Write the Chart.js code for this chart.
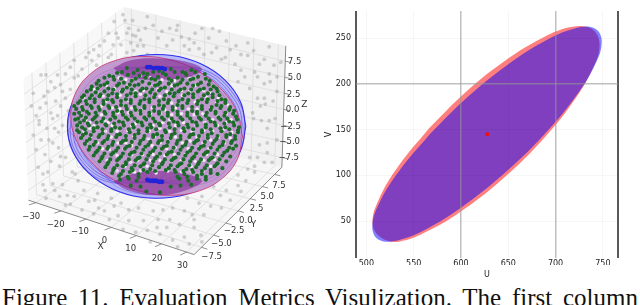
<!DOCTYPE html>
<html>
<head>
<meta charset="utf-8">
<title>Figure 11</title>
<script src="https://cdn.jsdelivr.net/npm/chart.js@4/dist/chart.umd.min.js"></script>
<style>
    html, body { margin: 0; padding: 0; background: #fff; overflow: hidden; width: 640px; height: 305px; }
    canvas { position: absolute; top: 0; }
    #sphereChart { left: 0; filter: blur(0.75px); }
    #ellipseChart { left: 320px; filter: blur(0.6px); }
    #caption {
        position: absolute; left: 2px; top: 285px; width: 636px; height: 20px; overflow: hidden;
        font: 25px/25px "Liberation Serif", serif; color: #111; white-space: nowrap;
        text-align: justify; text-align-last: justify;
    }
</style>
</head>
<body>
<canvas id="sphereChart" width="320" height="278"></canvas>
<canvas id="ellipseChart" width="320" height="280"></canvas>
<div id="caption">Figure 11. Evaluation Metrics Visulization. The first column</div>
<script>
// ---------- 3D panel, everything in its projected plane ----------
const xTicks = [-30, -20, -10, 0, 10, 20, 30];
const yTicks = [-7.5, -5, -2.5, 0, 2.5, 5, 7.5];
const zTicks = [-7.5, -5, -2.5, 0, 2.5, 5, 7.5];
const xTickLabels = ["\u221230", "\u221220", "\u221210", "0", "10", "20", "30"];
const yTickLabels = ["\u22127.5", "\u22125.0", "\u22122.5", "0.0", "2.5", "5.0", "7.5"];
const zTickLabels = ["\u22127.5", "\u22125.0", "\u22122.5", "0.0", "2.5", "5.0", "7.5"];

// projected box corners, named low/high for x y z
const boxCorners = {
    lll: [25, 202], hll: [195, 258], hhl: [285, 168], lhl: [125, 133],
    llh: [20, 77], hlh: [187, 117], hhh: [289, 43], lhh: [123, 3]
};
const xRange = [-33, 33];
const yRange = [-9, 9];
const zRange = [-9, 9.9];

const outerOutline = [[248,126],[242.5,100.7],[226.6,78.4],[202.3,61.9],[172.4,53.1],[140.6,53.1],[110.8,61.9],[86.4,78.4],[70.5,100.7],[65,126],[70.5,151.3],[86.4,173.6],[110.8,190.1],[140.6,198.9],[172.4,198.9],[202.3,190.1],[226.6,173.6],[242.5,151.3],[248,126]];
const innerOutline = [[244.5,136.7],[239.2,111.8],[223.9,88.7],[200.5,69.9],[171.8,57.9],[141.2,54],[112.5,58.7],[89.1,71.5],[73.8,90.8],[68.5,114.3],[73.8,139.2],[89.1,162.3],[112.5,181.1],[141.2,193.1],[171.8,197],[200.5,192.3],[223.9,179.5],[239.2,160.2],[244.5,136.7]];
const topCap = [[112,66],[130,58],[157,56],[185,59],[203,67],[190,75],[157,78],[125,75],[112,66]];
const bottomCap = [[112,183],[128,176],[157,172],[186,175],[203,182],[186,192],[157,197],[128,192],[112,183]];
const poleBlobs = [[147,65],[150,65],[153,66],[156,66],[159,66],[162,66],[165,67],[147,181],[150,182],[153,182],[156,182],[159,183],[162,183]];

const meridians = [
    [[157,64],[103,70],[74,100],[65.5,128],[74,158],[103,182],[155,184]],
    [[157,64],[107,71],[78,100],[68,128],[77,158],[106,181],[155,184]],
    [[157,64],[110,72],[81,100],[71,128],[80,158],[109,180],[155,184]],
    [[157,64],[113,73],[85,100],[75,128],[84,158],[112,179],[155,184]],
    [[157,64],[117,74],[91,100],[81,128],[89,157],[116,178],[155,184]],
    [[157,64],[123,75],[100,100],[91,128],[98,157],[123,176],[155,184]],
    [[157,64],[130,76],[112,100],[104,128],[110,156],[130,174],[155,184]],
    [[157,64],[140,77],[128,100],[122,128],[126,156],[140,173],[155,184]],
    [[157,64],[152,78],[150,100],[148,128],[148,156],[150,172],[155,184]],
    [[157,64],[172,78],[178,100],[178,128],[176,156],[168,172],[155,184]],
    [[157,64],[184,76],[202,100],[205,126],[200,152],[182,174],[155,184]],
    [[157,64],[192,74],[218,98],[226,126],[216,152],[192,176],[155,184]],
    [[157,64],[198,72],[228,98],[236,126],[226,156],[198,178],[155,184]],
    [[157,64],[202,71],[233,98],[241,126],[232,156],[202,180],[155,184]],
    [[157,64],[205,70],[236,98],[244,126],[235,156],[205,182],[155,184]],
    [[157,64],[208,69],[239,98],[247,126],[239,156],[208,184],[155,184]]
];
const rings = [
    [[94,90],[112,73],[156,66],[200,73],[218,90],[200,107],[156,114],[112,107],[94,90]],
    [[76,110],[100,87],[156,78],[212,87],[236,110],[212,133],[156,142],[100,133],[76,110]],
    [[66,130],[92,104],[156,94],[220,104],[246,130],[220,156],[156,166],[92,156],[66,130]],
    [[72,142],[97,117],[156,108],[215,117],[240,142],[215,167],[156,176],[97,167],[72,142]],
    [[78,153],[101,130],[156,121],[211,130],[234,153],[211,176],[156,185],[101,176],[78,153]],
    [[90,163],[110,144],[156,136],[202,144],[222,163],[202,182],[156,190],[110,182],[90,163]],
    [[101,172],[117,155],[156,148],[195,155],[211,172],[195,189],[156,196],[117,189],[101,172]]
];

const cloudPoints = [
    [135,33],[132,32],[128,25],[124,17],[113,18],[107,30],[115,30],[117,35],[103,38],[98,43],[110,52],[107,55],[87,50],[90,58],[72,58],[68,65],[63,72],[43,73],[38,73],[48,80],[55,73],[58,83],[45,90],[53,100],[48,112],[33,115],[43,102],[37,107],[58,105],[50,118],[55,115],[63,97],[68,88],[80,67],[95,63],[97,53],[143,43],[137,43],[133,48],[147,52],[145,25],[147,13],[132,17],[153,22],[140,37],
    [170,25],[177,27],[173,37],[185,43],[195,40],[190,47],[167,43],[203,25],[210,35],[218,45],[232,47],[227,55],[238,43],[237,62],[250,53],[267,57],[277,63],[257,70],[260,75],[247,75],[240,80],[252,87],[267,82],[260,97],[267,97],[273,80],[280,75],[268,103],[255,112],[263,105],[205,52],[213,50],[223,57],[243,68],[178,22],[196,30],[221,28],[250,40],[272,44],[262,62],[280,90],[278,118],[270,128],
    [50,143],[42,155],[33,150],[57,167],[63,158],[45,173],[40,175],[70,173],[73,175],[42,192],[43,200],[57,198],[65,197],[82,192],[72,198],[80,212],[63,207],[87,203],[103,213],[113,208],[128,223],[143,223],[138,210],[153,213],[157,230],[147,233],[117,218],[93,202],[50,185],[35,168],[58,157],[30,135],[36,124],[60,186],[92,216],
    [200,205],[188,200],[203,198],[215,188],[240,187],[250,170],[257,167],[260,158],[270,153],[270,143],[267,163],[248,182],[243,193],[232,202],[257,173],[223,210],[205,217],[193,217],[185,213],[180,227],[173,210],[163,212],[167,230],[185,240],[202,238],[195,230],[203,245],[190,247],[173,243],[160,237],[222,197],[275,163],[262,145],[120,205],[135,235],[150,245],[178,250],[108,222],[122,232],[97,210],
    [126,30],[120,42],[122,11],[138,27],[130,40],[112,42],[92,47],[84,55],[76,74],[60,90],[52,86],[41,95],[36,120],[44,128],[56,132],[28,105],[30,92],[66,110],[60,125],[52,128],[72,76],[126,50],[158,35],[162,28],[182,34],[190,36],[200,46],[214,25],[228,38],[243,52],[256,48],[272,72],[284,60],[276,100],[256,118],[264,120],[46,140],[38,140],[56,148],[48,162],[40,186],[52,192],[76,182],[68,206],[96,195],[110,200],[128,212],[158,222],[170,222],[195,222],[212,208],[228,192],[240,176],[252,158],[280,140],[272,120]
];

const greenPoints = [
    [126,66],[137,68],[149,65],[159,69],[171,67],[183,70],[192,68],
    [108,74],[116,71],[127,73],[139,74],[147,72],[158,75],[166,73],[178,76],[187,73],[199,75],[206,72],
    [97,79],[106,81],[113,78],[123,81],[131,79],[142,80],[151,77],[160,81],[172,79],[181,81],[191,78],[202,81],[211,79],
    [90,85],[99,84],[107,87],[116,84],[126,86],[134,84],[146,87],[155,84],[165,86],[175,84],[185,87],[194,84],[205,87],[215,85],
    [85,90],[94,91],[103,90],[111,92],[121,90],[130,92],[140,89],[150,91],[159,89],[170,92],[179,90],[189,92],[199,90],[209,92],[219,90],
    [80,96],[88,97],[98,95],[106,98],[116,96],[125,98],[135,95],[144,98],[154,96],[164,98],[174,95],[183,98],[194,96],[203,98],[214,96],[223,98],
    [76,102],[85,103],[93,101],[102,103],[112,101],[120,104],[130,102],[139,103],[149,101],[159,104],[168,102],[178,104],[188,102],[198,103],[208,101],[218,104],[227,102],
    [74,108],[81,109],[90,107],[98,109],[108,107],[116,110],[126,108],[135,109],[144,107],[154,110],[163,108],[173,109],[183,107],[193,110],[203,108],[212,109],[222,107],[231,109],
    [72,113],[79,115],[87,113],[95,115],[104,113],[112,115],[122,114],[131,115],[140,113],[149,115],[159,113],[168,115],[178,114],[188,115],[198,113],[207,115],[217,113],[226,115],[235,113],
    [73,119],[82,120],[91,119],[100,121],[109,119],[118,121],[127,119],[137,121],[146,119],[155,121],[164,119],[174,121],[183,119],[193,121],[202,119],[212,121],[222,119],[231,121],[239,119],
    [75,125],[80,127],[87,125],[96,127],[105,125],[114,127],[123,125],[133,127],[142,125],[151,127],[160,125],[170,127],[179,125],[189,127],[198,125],[207,127],[217,125],[227,127],[236,125],[241,127],
    [77,132],[84,133],[92,131],[101,133],[110,131],[119,134],[129,132],[138,133],[147,131],[157,134],[166,132],[175,133],[185,131],[194,134],[203,132],[213,133],[223,131],[232,134],[240,132],
    [79,138],[88,139],[97,137],[106,139],[115,137],[125,140],[134,138],[143,139],[153,137],[162,140],[171,138],[181,139],[190,137],[199,140],[209,138],[218,139],[228,137],[237,139],
    [83,144],[92,145],[101,143],[111,145],[120,143],[129,146],[139,144],[148,145],[158,143],[167,146],[177,144],[186,145],[195,143],[205,146],[214,144],[224,145],[233,143],[238,146],
    [87,150],[96,151],[106,149],[115,151],[124,149],[134,152],[143,150],[153,151],[162,149],[172,152],[181,150],[191,151],[200,149],[209,152],[219,150],[229,151],[235,149],
    [92,156],[101,157],[110,155],[120,157],[129,155],[139,158],[148,156],[157,157],[167,155],[176,158],[186,156],[195,157],[205,155],[214,158],[224,156],[232,157],
    [98,162],[107,163],[116,161],[125,163],[135,161],[144,164],[153,162],[163,163],[172,161],[182,164],[191,162],[200,163],[210,161],[219,164],[228,162],
    [104,168],[113,169],[122,167],[131,169],[140,167],[150,170],[159,168],[169,169],[178,167],[187,170],[197,168],[206,169],[216,167],[224,169],
    [111,174],[120,175],[129,173],[138,175],[147,173],[176,173],[185,175],[194,173],[203,175],[212,174],[219,175],
    [119,181],[128,180],[136,182],[180,180],[189,182],[198,180],[207,181],
    [130,187],[140,188],[171,188],[181,187],[192,186],
    [146,193],[160,194],
    [121,70],[133,71],[143,71],[153,70],[163,71],[175,70],[186,71],[196,70],
    [103,76],[112,75],[120,77],[135,77],[145,76],[155,78],[169,77],[183,78],[194,77],[207,77],
    [95,82],[103,83],[118,82],[129,83],[138,83],[149,82],[158,83],[169,82],[178,83],[188,82],[199,83],[210,83],
    [89,88],[96,87],[112,88],[122,88],[131,88],[142,87],[152,88],[161,87],[172,88],[181,88],[192,88],[201,88],[212,88],[218,87],
    [82,94],[90,94],[99,93],[107,94],[116,93],[126,94],[135,92],[145,94],[155,93],[165,94],[175,92],[185,94],[194,93],[205,94],[214,93],[221,94],
    [78,100],[84,100],[93,98],[102,100],[111,99],[120,100],[130,99],[140,100],[149,98],[159,100],[169,99],[179,100],[189,99],[199,100],[209,98],[219,100],[227,99],
    [72,105],[80,106],[89,105],[97,106],[107,105],[115,106],[125,105],[134,106],[144,105],[154,106],[164,105],[173,106],[183,105],[193,106],[203,105],[213,106],[223,105],[232,106],
    [77,112],[85,111],[94,112],[103,111],[112,112],[121,111],[130,112],[140,110],[149,112],[159,111],[168,112],[178,111],[188,112],[198,111],[208,112],[217,111],[227,112],[236,110],
    [76,118],[84,117],[93,117],[102,118],[114,117],[125,117],[134,118],[144,117],[153,118],[162,117],[172,118],[181,117],[191,118],[200,117],[210,118],[220,117],[229,118],[238,116],
    [78,122],[86,123],[95,122],[104,124],[113,123],[122,122],[132,124],[141,122],[150,124],[159,123],[169,123],[178,122],[188,124],[197,122],[207,124],[216,122],[226,123],[235,122],
    [75,130],[83,129],[92,128],[101,129],[110,129],[119,128],[128,129],[138,130],[147,128],[156,129],[165,130],[175,129],[184,128],[194,129],[203,130],[212,129],[222,128],[231,129],[240,130],
    [81,135],[89,135],[98,135],[107,136],[116,135],[125,136],[134,135],[144,136],[153,135],[162,136],[172,135],[181,136],[191,135],[200,136],[209,135],[219,136],[228,135],[237,136],
    [85,141],[94,142],[103,141],[112,142],[122,141],[131,142],[140,141],[150,142],[159,141],[168,142],[178,141],[187,142],[197,141],[206,142],[216,141],[225,142],[234,141],
    [88,147],[98,148],[107,147],[117,148],[126,147],[136,148],[145,147],[155,148],[164,147],[174,148],[183,147],[193,148],[202,147],[212,148],[221,147],[231,148],
    [94,153],[103,154],[112,153],[122,154],[131,153],[141,154],[150,153],[160,154],[169,153],[179,154],[188,153],[197,154],[207,153],[216,154],[226,153],
    [100,159],[109,160],[118,159],[128,160],[137,159],[146,160],[155,159],[165,160],[174,159],[184,160],[193,159],[202,160],[212,159],[221,160],
    [106,165],[116,166],[125,165],[134,166],[143,165],[152,166],[162,165],[171,166],[180,165],[190,166],[199,165],[208,166],[218,165],
    [112,171],[122,172],[132,171],[143,171],[155,172],[166,171],[175,171],[184,172],[193,171],[203,172],[212,171],
    [118,177],[127,178],[138,178],[178,178],[188,178],[198,177],[207,178]
];

const palePoints = [
    [118,76],[140,74],[162,78],[190,77],[105,84],[127,84],[150,83],[172,84],[196,84],[98,92],[120,89],[143,89],[167,90],[190,90],[212,91],
    [85,101],[105,100],[128,100],[149,101],[172,102],[196,101],[218,101],[89,107],[111,107],[131,107],[152,107],[176,107],[198,108],[222,106],
    [94,113],[117,112],[139,113],[160,113],[182,113],[204,113],[228,113],[84,119],[104,120],[125,118],[147,119],[170,119],[192,120],[214,119],[233,119],
    [92,125],[111,125],[131,125],[153,125],[176,125],[197,125],[219,125],[82,131],[104,131],[127,130],[149,131],[170,131],[193,131],[214,131],[234,132],
    [89,137],[110,137],[133,136],[154,137],[176,137],[198,137],[220,137],[96,143],[117,143],[139,143],[160,143],[183,143],[204,143],[226,143],
    [101,149],[123,149],[144,149],[167,149],[189,149],[210,149],[110,155],[131,155],[153,155],[175,155],[197,155],[219,155],[116,161],[137,161],[160,161],[182,161],[205,161],
    [124,167],[147,167],[170,167],[192,167],[212,167],[134,173],[156,174],[182,173],[204,173],
    [125,78],[150,76],[175,79],[93,88],[113,87],[135,90],[158,88],[182,89],[205,89],[82,97],[102,95],[119,94],[140,93],[160,95],[183,94],[208,96],[220,97],
    [79,105],[100,105],[119,108],[141,109],[165,109],[189,108],[212,107],[230,104],[78,113],[100,114],[128,112],[150,113],[172,114],[195,114],[218,114],
    [88,122],[107,122],[135,123],[163,122],[184,122],[206,122],[228,122],[88,128],[116,131],[138,131],[160,128],[182,130],[205,130],[226,129],
    [85,142],[104,141],[125,143],[148,139],[168,141],[191,141],[212,140],[232,138],[108,150],[131,146],[152,146],[176,148],[200,148],[220,150],
    [116,156],[142,155],[165,156],[186,155],[208,155],[106,161],[130,163],[150,161],[172,162],[196,162],[216,160],[116,172],[140,172],[168,172],[192,172]
];

// ---------- U/V panel ----------
const blueU = [566.9,534.6,513.5,506.2,513.5,534.6,566.9,606.4,648.6,688.2,720.4,741.5,748.8,741.5,720.4,688.2,648.6,606.4,566.9];
const blueV = [145,104.8,69.5,43.2,29.3,29.3,43.2,69.5,104.8,145,185.2,220.5,246.8,260.7,260.7,246.8,220.5,185.2,145];
const redU = [566,534.1,513.2,506.5,515.5,534.1,566,605.1,646.9,686,717.9,738.8,746.5,738.5,717.9,686,646.9,605.1,566];
const redV = [151.2,110.5,73.8,47,32,27.5,39.6,64.3,98.8,138.8,179.5,216.2,243,260,262.5,250.4,225.7,191.2,151.2];
const centerU = [627.8];
const centerV = [145];
const heavyGridU = [600, 700];
const heavyGridV = [200];
const uRange = [489, 766];
const vRange = [9.6, 279.8];

// ---------- helpers ----------
const toPoints = pairs => pairs.map(p => ({ x: p[0], y: p[1] }));
const mix = (a, b, t) => a + (b - a) * t;

// trilinear mapping of the box corners, only used for the axes and panes
function project(x, y, z) {
    const tx = (x - xRange[0]) / (xRange[1] - xRange[0]);
    const ty = (y - yRange[0]) / (yRange[1] - yRange[0]);
    const tz = (z - zRange[0]) / (zRange[1] - zRange[0]);
    const c = boxCorners;
    return [0, 1].map(i => mix(
        mix(mix(c.lll[i], c.hll[i], tx), mix(c.lhl[i], c.hhl[i], tx), ty),
        mix(mix(c.llh[i], c.hlh[i], tx), mix(c.lhh[i], c.hhh[i], tx), ty), tz));
}

function lineLayer(pairs, color, width, extra) {
    return Object.assign({
        data: toPoints(pairs), showLine: true, pointRadius: 0, borderColor: color,
        borderWidth: width, tension: 0, fill: false
    }, extra || {});
}
function dotLayer(pairs, color, radius) {
    return { data: toPoints(pairs), showLine: false, pointRadius: radius, pointBackgroundColor: color, pointBorderWidth: 0 };
}

// back to front, reversed when handed to Chart.js
const layers = [];
const [xa, xb] = xRange, [ya, yb] = yRange, [za, zb] = zRange;
layers.push(lineLayer([boxCorners.lll, boxCorners.lhl, boxCorners.lhh, boxCorners.llh, boxCorners.lll], "rgba(0,0,0,0)", 0, { fill: "shape", backgroundColor: "#f8f8f8" }));
layers.push(lineLayer([boxCorners.lhl, boxCorners.hhl, boxCorners.hhh, boxCorners.lhh, boxCorners.lhl], "rgba(0,0,0,0)", 0, { fill: "shape", backgroundColor: "#f1f1f1" }));
layers.push(lineLayer([boxCorners.lll, boxCorners.hll, boxCorners.hhl, boxCorners.lhl, boxCorners.lll], "rgba(0,0,0,0)", 0, { fill: "shape", backgroundColor: "#f6f6f6" }));

const gridColor = "#dcdcdc";
xTicks.forEach(t => {
    layers.push(lineLayer([project(t, ya, za), project(t, yb, za), project(t, yb, zb)], gridColor, 0.8));
});
yTicks.forEach(t => {
    layers.push(lineLayer([project(xa, t, zb), project(xa, t, za), project(xb, t, za)], gridColor, 0.8));
});
zTicks.forEach(t => {
    layers.push(lineLayer([project(xa, ya, t), project(xa, yb, t), project(xb, yb, t)], gridColor, 0.8));
});
// axis lines and tick marks
layers.push(lineLayer([boxCorners.lll, boxCorners.hll, boxCorners.hhl, boxCorners.hhh], "#8a8a8a", 1));
xTicks.forEach(t => layers.push(lineLayer([project(t, ya, za), project(t - 1, ya - 0.8, za)], "#777", 0.8)));
yTicks.forEach(t => layers.push(lineLayer([project(xb, t, za), project(xb + 2.4, t, za)], "#777", 0.8)));
zTicks.forEach(t => layers.push(lineLayer([project(xb, yb, t), project(xb + 2.4, yb, t)], "#777", 0.8)));

layers.push(dotLayer(cloudPoints, "rgba(130,130,130,0.34)", 1.9));

layers.push(lineLayer(outerOutline, "#2f2ff0", 1.1, { tension: 0.4, fill: "shape", backgroundColor: "rgba(180,180,248,0.95)" }));
meridians.forEach(m => layers.push(lineLayer(m, "rgba(50,50,240,0.55)", 0.6, { tension: 0.4 })));
rings.forEach(r => layers.push(lineLayer(r, "rgba(50,50,240,0.45)", 0.6, { tension: 0.4 })));
layers.push(lineLayer(innerOutline, "rgba(200,40,100,0.75)", 1, { tension: 0.4, fill: "shape", backgroundColor: "#c39ad0" }));
layers.push(lineLayer(topCap, "rgba(0,0,0,0)", 0, { tension: 0.4, fill: "shape", backgroundColor: "rgba(120,30,140,0.55)" }));
layers.push(lineLayer(bottomCap, "rgba(0,0,0,0)", 0, { tension: 0.4, fill: "shape", backgroundColor: "rgba(120,30,140,0.55)" }));
layers.push(dotLayer(palePoints, "rgba(252,238,248,0.95)", 1.7));
meridians.forEach(m => layers.push(lineLayer(m, "rgba(110,40,170,0.4)", 0.5, { tension: 0.4 })));
layers.push(dotLayer(greenPoints, "#1a6c28", 2.05));
layers.push(dotLayer(poleBlobs, "#2323d8", 2.4));

// real text for the 3D panel's ticks; anchors are where the labels sit in the projected plane
const xLabelAnchors = [[28,219],[53,227],[78,235],[103,244],[130,252],[157,262],[183,270]];
const yLabelAnchors = [[213,260],[223,247],[236,234],[248,223],[259,211],[270,199],[282,187]];
const zLabelAnchors = [[292,158],[293,142],[294,126],[296,109],[297,93],[298,76],[298,59]];
const axisNames = [["X", 99, 250], ["Y", 256, 227], ["Z", 308, 104]];

const tickTextPlugin = {
    id: "tickText",
    afterDatasetsDraw(chart) {
        const { ctx, scales } = chart;
        const put = (text, u, v, size) => {
            ctx.font = size + 'px "DejaVu Sans"';
            ctx.fillText(text, scales.x.getPixelForValue(u), scales.y.getPixelForValue(v));
        };
        ctx.save();
        ctx.fillStyle = "#333";
        ctx.textAlign = "center";
        ctx.textBaseline = "middle";
        xTickLabels.forEach((t, i) => put(t, xLabelAnchors[i][0], xLabelAnchors[i][1], 8.5));
        yTickLabels.forEach((t, i) => put(t, yLabelAnchors[i][0], yLabelAnchors[i][1], 8.5));
        zTickLabels.forEach((t, i) => put(t, zLabelAnchors[i][0], zLabelAnchors[i][1], 8.5));
        axisNames.forEach(a => put(a[0], a[1], a[2], 9));
        ctx.restore();
    }
};

new Chart(document.getElementById("sphereChart").getContext("2d"), {
    type: "scatter",
    data: { datasets: layers.slice().reverse() },
    plugins: [tickTextPlugin],
    options: {
        responsive: false,
        animation: false,
        layout: { padding: 0 },
        plugins: { legend: { display: false }, tooltip: { enabled: false } },
        scales: {
            x: { display: false, min: 0, max: 320 },
            y: { display: false, min: 0, max: 278, reverse: true }
        }
    }
});

// the tick labels are cut off in the source image just under their middle
const cropLabelsPlugin = {
    id: "cropLabels",
    afterDraw(chart) {
        chart.ctx.clearRect(0, 265, chart.width, 2);
    }
};

const isHeavy = (list, value) => list.includes(value);
const lightLine = "rgba(0,0,0,0.035)";
const heavyLine = "rgba(150,150,150,0.6)";
const tickFont = { family: "DejaVu Sans", size: 8 };
const spine = u => ({
    data: vRange.map(v => ({ x: u, y: v })),
    showLine: true, pointRadius: 0, borderColor: "#000", borderWidth: 1.3, clip: false
});

new Chart(document.getElementById("ellipseChart").getContext("2d"), {
    type: "scatter",
    data: {
        datasets: [
            spine(uRange[0]),
            spine(uRange[1]),
            {
                data: centerU.map((u, i) => ({ x: u, y: centerV[i] })),
                pointRadius: 2, pointBackgroundColor: "#f01010", pointBorderWidth: 0
            },
            {
                data: blueU.map((u, i) => ({ x: u, y: blueV[i] })),
                showLine: true, pointRadius: 0, borderWidth: 0, tension: 0.4, fill: "shape",
                backgroundColor: "rgba(0,0,255,0.5)"
            },
            {
                data: redU.map((u, i) => ({ x: u, y: redV[i] })),
                showLine: true, pointRadius: 0, borderWidth: 0, tension: 0.4, fill: "shape",
                backgroundColor: "rgba(255,0,0,0.5)"
            }
        ]
    },
    plugins: [cropLabelsPlugin],
    options: {
        responsive: false,
        animation: false,
        layout: { padding: { top: 11, right: 22, left: 0, bottom: 0 } },
        plugins: { legend: { display: false }, tooltip: { enabled: false } },
        scales: {
            x: {
                min: uRange[0], max: uRange[1],
                afterFit: s => { s.height = 22; },
                ticks: { stepSize: 50, includeBounds: false, padding: 1, maxRotation: 0, color: "#222", font: tickFont },
                border: { display: false },
                grid: {
                    z: 1, drawTicks: false,
                    color: c => isHeavy(heavyGridU, c.tick.value) ? heavyLine : lightLine,
                    lineWidth: c => isHeavy(heavyGridU, c.tick.value) ? 1.5 : 1
                },
                title: { display: true, text: "U", color: "#222", font: tickFont, padding: { top: 0, bottom: 0 } }
            },
            y: {
                min: vRange[0], max: vRange[1],
                afterFit: s => { s.width = 36; },
                ticks: { stepSize: 50, includeBounds: false, padding: 5, color: "#222", font: tickFont },
                border: { display: false },
                grid: {
                    z: 1, drawTicks: false,
                    color: c => isHeavy(heavyGridV, c.tick.value) ? heavyLine : lightLine,
                    lineWidth: c => isHeavy(heavyGridV, c.tick.value) ? 1.5 : 1
                },
                title: { display: true, text: "V", color: "#222", font: tickFont, padding: { top: 4, bottom: 0 } }
            }
        }
    }
});
</script>
</body>
</html>
